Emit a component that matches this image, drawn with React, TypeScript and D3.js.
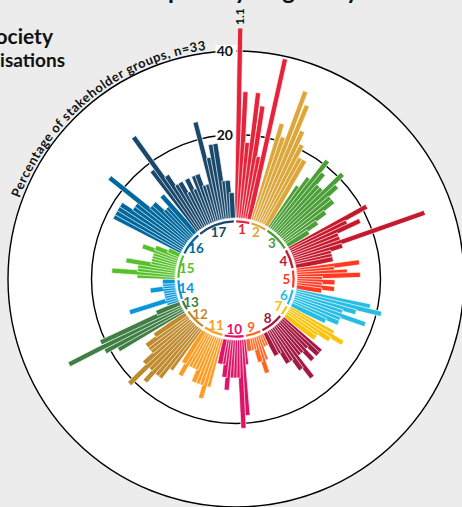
import React from 'react';
import * as d3 from 'd3';

// ---------- data ----------
const goals = [1, 2, 3, 4, 5, 6, 7, 8, 9, 10, 11, 12, 13, 14, 15, 16, 17];
const goalColors = [
  '#E5243B', '#DDA63A', '#4C9F38', '#C5192D', '#FF3A21', '#26BDE2', '#FCC30B', '#A21942',
  '#FD6925', '#DD1367', '#FD9D24', '#BF8B2E', '#3F7E44', '#0A97D9', '#56C02B', '#00689D', '#19486A',
];
const sdg1 = [45.5, 30.3, 18.2, 30.3, 27.3, 15.2, 39.4];
const sdg2 = [24.2, 21.2, 33.3, 30.3, 24.2, 21.2, 18.2, 18.2];
const sdg3 = [12.1, 15.2, 21.2, 18.2, 15.2, 15.2, 21.2, 18.2, 15.2, 15.2, 12.1, 9.1, 6.1];
const sdg4 = [21.2, 15.2, 18.2, 12.1, 12.1, 33.3, 12.1, 9.1, 9.1, 9.1];
const sdg5 = [15.2, 9.1, 12.1, 15.2, 6.1, 9.1, 6.1, 9.1, 6.1];
const sdg6 = [18.2, 21.2, 15.2, 12.1, 18.2, 12.1, 12.1, 9.1];
const sdg7 = [12.1, 15.2, 12.1, 9.1, 9.1];
const sdg8 = [12.1, 12.1, 9.1, 12.1, 9.1, 9.1, 15.2, 12.1, 9.1, 9.1, 6.1, 6.1];
const sdg9 = [3.0, 3.0, 6.1, 9.1, 6.1, 3.0, 3.0, 3.0];
const sdg10 = [6.1, 18.2, 21.2, 9.1, 9.1, 9.1, 12.1, 9.1, 6.1, 6.1];
const sdg11 = [12.1, 15.2, 12.1, 12.1, 12.1, 9.1, 9.1, 9.1, 12.1, 9.1];
const sdg12 = [12.1, 15.2, 15.2, 18.2, 15.2, 21.2, 15.2, 12.1, 12.1, 12.1, 9.1];
const sdg13 = [18.2, 21.2, 30.3, 21.2, 6.1];
const sdg14 = [3.0, 12.1, 3.0, 3.0, 3.0, 3.0, 6.1, 3.0, 3.0, 3.0];
const sdg15 = [9.1, 15.2, 9.1, 9.1, 12.1, 6.1, 6.1, 6.1, 6.1, 9.1, 6.1, 3.0];
const sdg16 = [18.2, 18.2, 18.2, 18.2, 15.2, 15.2, 24.2, 12.1, 12.1, 9.1, 9.1, 12.1];
const sdg17 = [18.2, 27.3, 15.2, 12.1, 12.1, 9.1, 12.1, 9.1, 12.1, 12.1, 9.1, 9.1, 24.2, 15.2, 18.2, 18.2, 9.1, 9.1, 6.1];
const goalTargets = [sdg1, sdg2, sdg3, sdg4, sdg5, sdg6, sdg7, sdg8, sdg9, sdg10, sdg11, sdg12, sdg13, sdg14, sdg15, sdg16, sdg17];
const axisTicks = [20, 40];
const topTargetLabel = '1.1';
const axisTitle = 'Percentage of stakeholder groups, n=33';
const titleLead = 'Selected';
const titleMain = 'priority targets by stakeholder group';
const legendLines = ['Civil Society', 'Organisations'];

// ---------- layout ----------
const W = 462;
const H = 507;
const cx = 236;
const cy = 279;
const FONT = 'Lato, "Open Sans", sans-serif';

const rScale = d3.scaleLinear().domain([0, 40]).range([61, 228]);
const totalSlots = goalTargets.reduce((s, g) => s + g.length, 0) + goals.length;
const aScale = d3.scaleLinear().domain([0, totalSlots]).range([0, 360]);

type Bar = { goal: number; idx: number; value: number; slot: number; color: string };
type Group = { goal: number; start: number; end: number; color: string };

const bars: Bar[] = [];
const groups: Group[] = [];
{
  let slot = 0;
  goalTargets.forEach((vals, gi) => {
    const start = slot;
    vals.forEach((v, i) => {
      bars.push({ goal: goals[gi], idx: i, value: v, slot: slot + 0.5, color: goalColors[gi] });
      slot += 1;
    });
    groups.push({ goal: goals[gi], start, end: slot, color: goalColors[gi] });
    slot += 1; // gap
  });
}

const rad = (deg: number) => (deg * Math.PI) / 180;
const polar = (deg: number, r: number): [number, number] => [cx + r * Math.sin(rad(deg)), cy - r * Math.cos(rad(deg))];

const groupArc = d3.arc<any>();

export default function App() {
  const barW = 5.1;
  const r0 = rScale(0);
  const firstBar = bars[0];
  const firstTip = rScale(firstBar.value) + 3;
  const [lx, ly] = polar(aScale(firstBar.slot), firstTip);

  const textR = 231;
  const [tx1, ty1] = polar(290.5, textR);
  const [tx2, ty2] = polar(352.3, textR);
  const textPathD = `M${tx1},${ty1} A${textR},${textR} 0 0 1 ${tx2},${ty2}`;

  return (
    <svg width={W} height={H} style={{ position: 'absolute', left: 0, top: 0, fontFamily: FONT }}>
      <defs>
        <path id="axisTitlePath" d={textPathD} fill="none" />
      </defs>
      <rect x={0} y={0} width={W} height={H} fill="#ececec" />
      {/* outer disk = 40 circle */}
      <circle cx={cx} cy={cy} r={rScale(40)} fill="#ffffff" stroke="#000" strokeWidth={1.4} />
      <circle cx={cx} cy={cy} r={rScale(20)} fill="none" stroke="#000" strokeWidth={1.4} />

      {/* axis tick labels */}
      {axisTicks.map((t) => {
        const y = cy - rScale(t);
        return (
          <g key={t}>
            <rect x={215.5} y={y - 6} width={21} height={12} fill="#ffffff" />
            <text x={233} y={y} dy="0.36em" textAnchor="end" fontSize={14} fontWeight={700} fill="#111">
              {t}
            </text>
          </g>
        );
      })}

      {/* bars */}
      {bars.map((b, i) => {
        const a = aScale(b.slot);
        const re = rScale(b.value);
        return (
          <rect
            key={i}
            x={-barW / 2}
            y={-re}
            width={barW}
            height={re - r0}
            fill={b.color}
            stroke="#ffffff"
            strokeWidth={0.65}
            transform={`translate(${cx},${cy}) rotate(${a})`}
          />
        );
      })}

      {/* group arcs */}
      {groups.map((g) => (
        <path
          key={g.goal}
          d={groupArc({
            innerRadius: 56.5,
            outerRadius: 58.7,
            startAngle: rad(aScale(g.start)) + 0.004,
            endAngle: rad(aScale(g.end)) - 0.004,
          }) as string}
          transform={`translate(${cx},${cy})`}
          fill={g.color}
        />
      ))}

      {/* goal number labels */}
      {groups.map((g) => {
        const [x, y] = polar(aScale((g.start + g.end) / 2), 50.5);
        return (
          <text key={g.goal} x={x} y={y} dy="0.36em" textAnchor="middle" fontSize={13.5} fontWeight={700} fill={g.color}>
            {g.goal}
          </text>
        );
      })}

      {/* label of the tallest target */}
      <text
        transform={`translate(${lx},${ly}) rotate(-90)`}
        dy="0.35em"
        textAnchor="start"
        fontSize={12}
        fontWeight={700}
        fill="#111"
      >
        {topTargetLabel}
      </text>

      {/* curved axis title */}
      <text fontSize={13} fontWeight={700} fill="#111">
        <textPath href="#axisTitlePath" textLength={250} lengthAdjust="spacing">
          {axisTitle}
        </textPath>
      </text>

      {/* cropped title */}
      <text x={166} y={-1} textAnchor="end" fontSize={24} fontWeight={700} fill="#111">
        {titleLead}
      </text>
      <text x={168} y={-1} textAnchor="start" fontSize={24} fontWeight={700} fill="#111">
        {titleMain}
      </text>

      {/* cropped legend text */}
      <text x={53} y={44} textAnchor="end" fontSize={21} fontWeight={700} fill="#111">
        {legendLines[0]}
      </text>
      <text x={65} y={67} textAnchor="end" fontSize={19} fontWeight={700} fill="#111">
        {legendLines[1]}
      </text>
    </svg>
  );
}
